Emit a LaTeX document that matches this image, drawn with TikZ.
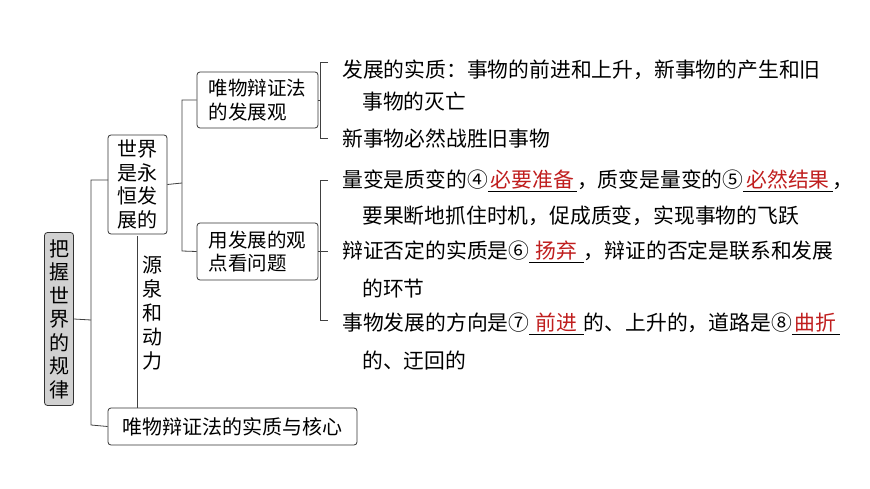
\documentclass[tikz,border=0pt]{standalone}
\usepackage{fontspec}
\setmainfont{Noto Sans CJK SC}
\definecolor{ansred}{RGB}{192,30,30}
\newcommand{\ans}[1]{\underline{\hbox to 3pt{}\textcolor{ansred}{#1}\hbox to 3pt{}}}
\begin{document}
\begin{tikzpicture}[x=1pt,y=-1pt,
  box/.style={draw=black!80,rounded corners=3pt,line width=0.8pt,inner sep=0pt},
  ln/.style={draw=black!75,line width=0.8pt},
  txt/.style={anchor=west,inner sep=0pt,font=\fontsize{20.8}{24}\selectfont}]
\useasboundingbox[fill=white] (0,0) rectangle (870,489);
\node[box,fill=black!18,minimum width=29pt,minimum height=173pt] (root) at (59,319) {};
\node[font=\fontsize{20}{23.5}\selectfont,align=center] at (root) {把\\握\\世\\界\\的\\规\\律};
\node[box,minimum width=59pt,minimum height=99pt] (world) at (137.5,184.5) {};
\node[font=\fontsize{20}{23.5}\selectfont,align=center] at (world) {世界\\是永\\恒发\\展的};
\node[box,minimum width=121pt,minimum height=56pt,font=\fontsize{19.5}{23.5}\selectfont,align=left] (b1) at (257.5,100) {唯物辩证法\\的发展观};
\node[box,minimum width=121pt,minimum height=57pt,font=\fontsize{19.5}{23.5}\selectfont,align=left] (b2) at (257.5,251.5) {用发展的观\\点看问题};
\node[box,minimum width=249pt,minimum height=37pt,font=\fontsize{20}{23}\selectfont] (core) at (232.5,426.5) {唯物辩证法的实质与核心};
% root connectors
\draw[ln] (root.east) -- (91,320);
\draw[ln] (108,180) -- (91,180) -- (91,425) -- (core.west);
% world connectors
\draw[ln] (world.east) -- (182,183);
\draw[ln] (b1.west) -- (182,100) -- (182,251) -- (b2.west);
% source
\draw[ln] (137,236) -- (137,408);
\node[font=\fontsize{20}{24}\selectfont,align=center] at (152,313) {源\\泉\\和\\动\\力};
% right brackets b1
\draw[ln] (b1.east) -- (320,100);
\draw[ln] (328,62) -- (320,62) -- (320,138) -- (328,138);
% right brackets b2
\draw[ln] (b2.east) -- (328,251.5);
\draw[ln] (328,180) -- (320,180) -- (320,320) -- (328,320);
% texts
\node[txt] at (342,70) {发展的实质：事物的前进和上升，新事物的产生和旧};
\node[txt] at (362,102) {事物的灭亡};
\node[txt] at (342,139) {新事物必然战胜旧事物};
\node[txt] at (342,181) {量变是质变的④\ans{必要准备}，质变是量变的⑤\ans{必然结果}，};
\node[txt] at (362,216) {要果断地抓住时机，促成质变，实现事物的飞跃};
\node[txt] at (342,252) {辩证否定的实质是⑥\ans{\,扬弃\,}，辩证的否定是联系和发展};
\node[txt] at (362,289) {的环节};
\node[txt] at (342,324) {事物发展的方向是⑦\ans{\,前进\,}的、上升的，道路是⑧\ans{曲折}};
\node[txt] at (362,361) {的、迂回的};
\end{tikzpicture}
\end{document}
